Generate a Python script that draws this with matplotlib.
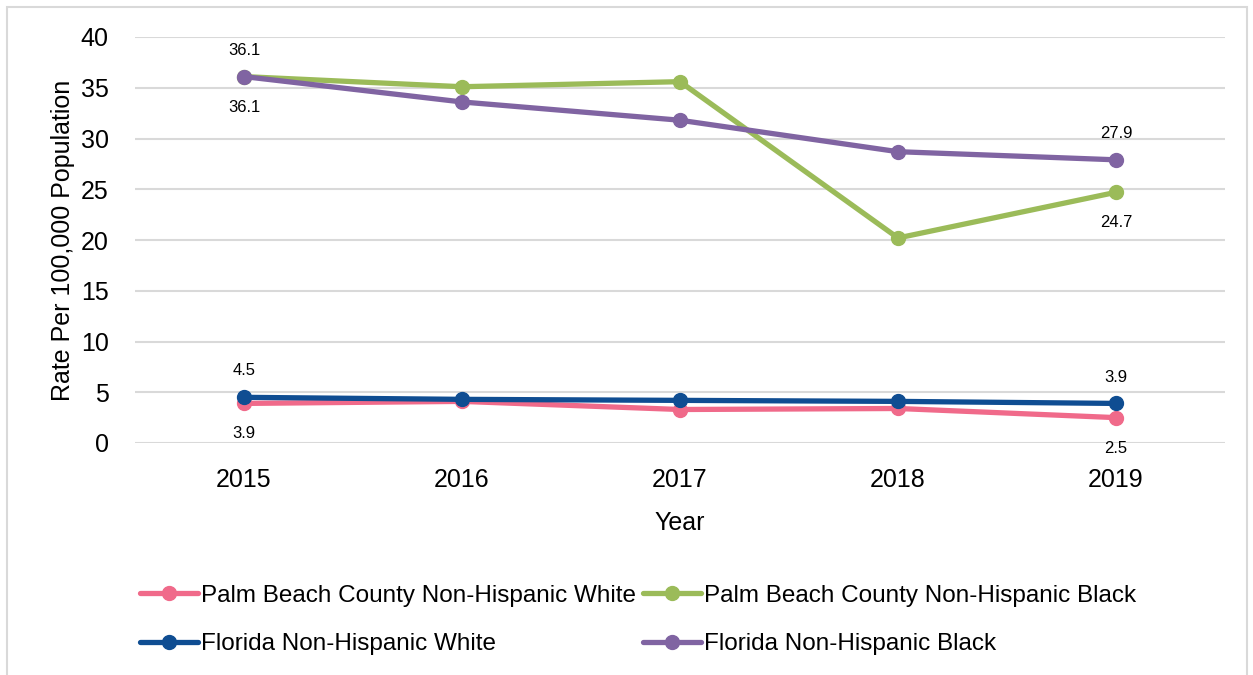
import numpy as np
import matplotlib.pyplot as plt
from matplotlib.patches import Rectangle

plt.rcParams['font.family'] = ['Liberation Sans Narrow', 'Liberation Sans', 'DejaVu Sans']

years = ['2015', '2016', '2017', '2018', '2019']
pbc_white = [3.9, 4.1, 3.3, 3.4, 2.5]
pbc_black = [36.1, 35.1, 35.6, 20.2, 24.7]
fl_white = [4.5, 4.3, 4.2, 4.1, 3.9]
fl_black = [36.1, 33.6, 31.8, 28.7, 27.9]

series = [
    ('Palm Beach County Non-Hispanic White', pbc_white, '#F06A8A', 'below'),
    ('Palm Beach County Non-Hispanic Black', pbc_black, '#9BBB59', 'below'),
    ('Florida Non-Hispanic White', fl_white, '#0F4D92', 'above'),
    ('Florida Non-Hispanic Black', fl_black, '#8064A2', 'above'),
]

fig = plt.figure(figsize=(12.53, 6.75), dpi=100)
ax = fig.add_axes([135 / 1253, 1 - 443 / 675, 1090 / 1253, 406 / 675])

# borde gris de la figura
fig.patches.append(Rectangle((7 / 1253, -0.05), 1240 / 1253, 1.05 - 7 / 675,
                             transform=fig.transFigure, fill=False,
                             edgecolor='#D9D9D9', linewidth=1.5))

x = np.arange(len(years))
lines = {}
for name, vals, color, pos in series:
    ln, = ax.plot(x, vals, color=color, linewidth=3.8, marker='o', markersize=10,
                  label=name, solid_capstyle='round', zorder=3)
    lines[name] = ln
    # etiquetas solo en el primer y ultimo punto
    for i in (0, len(vals) - 1):
        off = 19 if pos == 'above' else -22
        ax.annotate(f'{vals[i]:.1f}', (x[i], vals[i]), xytext=(0, off),
                    textcoords='offset points', ha='center', va='center',
                    fontsize=12)

ax.set_xlim(-0.5, len(years) - 0.5)
ax.set_ylim(0, 40)
ax.set_yticks(np.arange(0, 41, 5))
ax.set_xticks(x)
ax.set_xticklabels(years)
ax.tick_params(axis='both', length=0, labelsize=18)
ax.tick_params(axis='y', pad=19)
ax.tick_params(axis='x', pad=18)
ax.grid(axis='y', color='#D9D9D9', linewidth=1.5)
ax.set_axisbelow(True)
for s in ax.spines.values():
    s.set_visible(False)

ax.set_xlabel('Year', fontsize=18, labelpad=14)
ax.set_ylabel('Rate Per 100,000 Population', fontsize=18, labelpad=4)

# orden por filas como en el original
orden = [series[0][0], series[2][0], series[1][0], series[3][0]]
ax.legend([lines[n] for n in orden], orden,
          loc='center', bbox_to_anchor=(503 / 1090, (443 - 620) / 406), ncol=2,
          frameon=False, fontsize=17.5, handlelength=2.4, handletextpad=0.1,
          columnspacing=0.3, labelspacing=1.1)

fig.savefig('out.png', dpi=100)
